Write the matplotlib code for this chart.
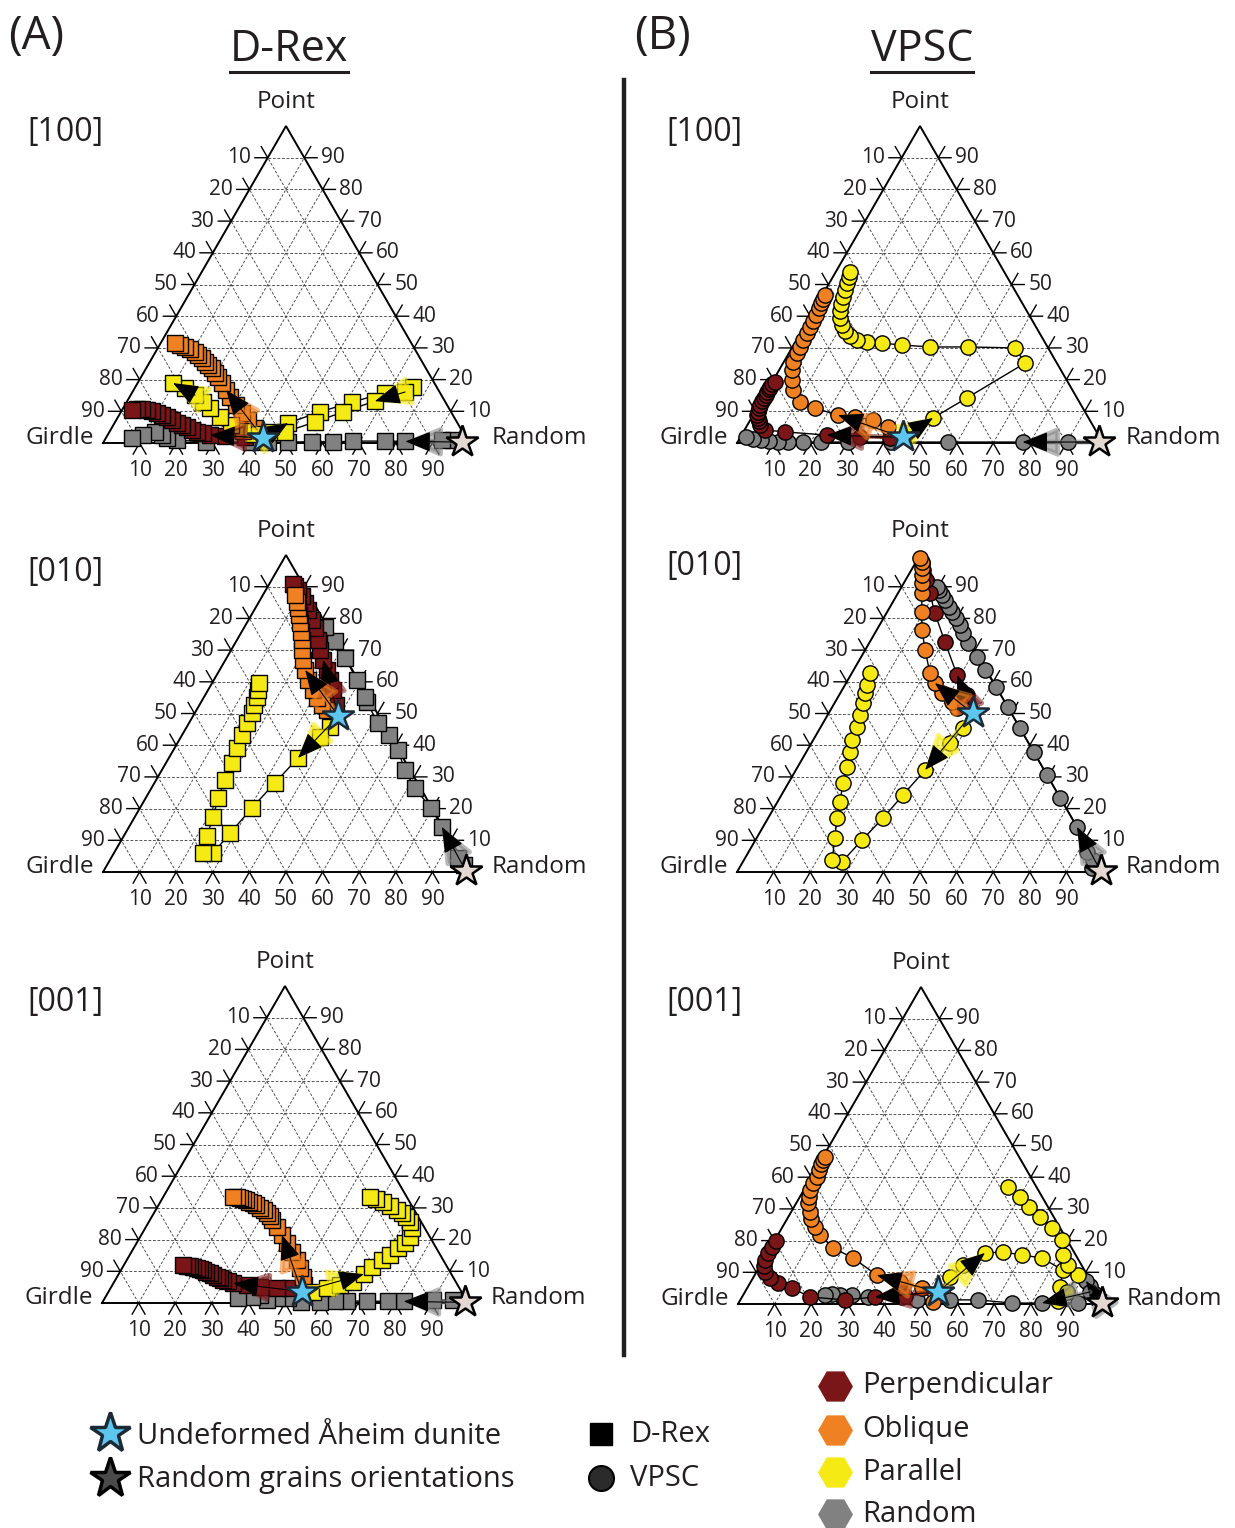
import numpy as np
import matplotlib
matplotlib.use('Agg')
import matplotlib.pyplot as plt
from matplotlib.patches import FancyArrowPatch

plt.rcParams['font.family'] = ['Open Sans', 'DejaVu Sans']

# ---------------- data: (Point %, Random %) pairs, Girdle = 100 - Point - Random
# each deformed path starts at the undeformed sample, the random path at the random star

# D-Rex [100]
a100_start = (1.6, 43.0)
a100_rand = (0.3, 98.0)
a100_perp = [(1.9, 37.8), (2.2, 32.2), (2.5, 28.0), (3.2, 25.7), (3.5, 24.0), (4.1, 22.3), (5.0, 20.5),
             (5.7, 18.7), (6.3, 17.1), (7.3, 15.2), (8.2, 13.4), (8.8, 11.7), (9.5, 10.0), (10.1, 8.3),
             (10.4, 6.8), (10.7, 5.3), (10.7, 4.0), (10.4, 2.7)]
a100_obl = [(4.7, 39.2), (7.3, 36.0), (9.5, 33.2), (12.0, 30.3), (14.5, 27.5), (16.7, 25.3), (18.9, 23.0),
            (20.8, 21.0), (22.1, 19.6), (23.7, 18.0), (24.6, 16.4), (25.6, 15.1), (26.8, 13.6), (27.8, 12.1),
            (28.7, 10.8), (29.7, 8.9), (30.3, 7.3), (30.9, 5.6), (31.5, 3.9)]
a100_par = [(3.5, 44.4), (6.3, 47.4), (9.8, 54.4), (12.9, 61.6), (15.8, 69.1), (17.7, 75.9), (16.1, 74.5),
            (13.2, 67.7), (9.8, 60.7), (6.6, 54.6), (3.5, 48.0), (2.8, 39.3), (3.8, 36.4), (5.7, 32.1),
            (8.2, 27.9), (11.0, 23.7), (12.9, 20.9), (15.1, 17.6), (17.4, 13.7), (18.9, 9.7)]
a100_rnd = [(0.9, 95.2), (0.9, 92.2), (0.5, 82.4), (0.6, 76.7), (0.6, 68.0), (0.3, 62.8), (0.4, 57.0),
            (0.3, 50.5), (0.2, 45.0), (0.3, 40.2), (0.3, 27.9), (0.9, 19.8), (1.6, 16.7), (2.5, 14.9),
            (3.5, 12.5), (2.5, 9.7), (1.6, 7.1)]

# D-Rex [010]
a010_start = (49.2, 39.7)
a010_rand = (0.3, 99.0)
a010_perp = [(52.7, 37.3), (57.4, 34.1), (60.6, 31.7), (63.7, 29.4), (66.9, 26.7), (70.0, 24.3), (73.2, 22.1),
             (77.0, 19.4), (79.5, 17.4), (82.6, 14.7), (84.9, 12.8), (87.1, 10.8), (89.0, 8.8), (90.2, 7.4),
             (90.9, 6.4)]
a010_obl = [(51.1, 35.7), (52.7, 33.5), (54.9, 31.0), (57.4, 28.7), (60.6, 25.7), (63.7, 23.4), (66.9, 21.2),
            (70.0, 19.4), (73.2, 17.8), (75.7, 16.3), (78.5, 14.6), (81.1, 13.0), (83.3, 11.6), (85.2, 10.4),
            (87.4, 8.8)]
a010_par = [(45.7, 39.2), (42.6, 38.0), (36.0, 35.3), (28.1, 32.9), (20.2, 30.6), (12.3, 28.6), (6.0, 27.1),
            (6.0, 24.3), (11.4, 22.7), (17.4, 21.4), (23.3, 19.8), (29.0, 18.8), (34.4, 18.0), (39.1, 17.0),
            (43.2, 16.4), (47.0, 15.8), (50.2, 15.6), (52.7, 14.9), (55.2, 14.5), (57.4, 13.6), (59.6, 12.8)]
a010_rnd = [(2.2, 97.6), (4.4, 94.8), (14.2, 85.5), (20.2, 79.5), (26.5, 71.9), (32.2, 66.4), (38.5, 61.3),
            (43.2, 56.6), (47.0, 51.6), (53.6, 45.3), (55.2, 44.0), (60.6, 39.1), (67.5, 32.4), (72.9, 27.0),
            (77.3, 22.0)]

# D-Rex [001]
a001_start = (3.6, 52.8)
a001_rand = (0.2, 99.0)
a001_perp = [(4.7, 49.0), (4.7, 45.5), (5.0, 40.7), (5.7, 36.8), (6.2, 32.8), (6.8, 31.1), (7.3, 29.5),
             (7.9, 28.3), (8.3, 27.2), (8.8, 26.0), (9.4, 24.8), (9.9, 23.6), (10.4, 22.5), (10.7, 21.4),
             (11.0, 20.4), (11.4, 19.2), (11.6, 18.2), (11.8, 17.2), (12.0, 16.2)]
a001_obl = [(5.7, 52.3), (8.2, 50.8), (11.0, 48.6), (13.6, 46.5), (16.1, 43.9), (18.9, 41.1), (21.5, 38.4),
            (24.0, 35.8), (26.2, 33.3), (27.4, 32.1), (28.4, 30.9), (29.3, 29.5), (30.0, 28.2), (30.8, 26.8),
            (31.5, 25.5), (32.0, 24.3), (32.5, 23.1), (32.8, 22.1), (33.1, 21.2), (33.3, 20.1), (33.4, 19.1)]
a001_par = [(3.5, 55.9), (4.7, 59.1), (5.7, 62.2), (6.6, 65.3), (9.1, 67.0), (11.4, 68.1), (13.6, 69.7),
            (15.1, 71.2), (17.4, 72.2), (18.9, 73.4), (20.8, 73.8), (23.7, 72.8), (25.6, 71.4), (27.1, 69.5),
            (28.4, 67.8), (29.3, 66.0), (30.6, 63.4), (31.9, 60.8), (32.8, 58.5), (33.4, 56.5)]
a001_rnd = [(0.9, 95.5), (0.9, 90.0), (0.5, 82.2), (0.5, 77.9), (0.6, 72.1), (0.6, 66.6), (0.6, 63.4),
            (0.3, 59.4), (0.3, 54.1), (1.6, 50.0), (1.6, 47.0), (0.9, 44.6), (2.5, 41.9), (1.9, 40.0),
            (1.6, 36.4)]

# VPSC [100]
b100_start = (1.8, 44.4)
b100_rand = (0.3, 98.8)
b100_perp = [(1.6, 41.0), (1.9, 32.7), (2.5, 23.3), (3.5, 11.4), (4.1, 5.6), (5.7, 3.4), (6.8, 2.5), (7.9, 1.8),
             (8.8, 1.2), (9.8, 0.8), (10.9, 0.5), (12.0, 0.3), (13.1, 0.2), (14.2, 0.2), (15.2, 0.2),
             (16.1, 0.2), (17.0, 0.2), (17.7, 0.2), (18.5, 0.4), (19.2, 0.8)]
b100_obl = [(5.0, 38.8), (7.3, 33.5), (8.2, 28.1), (8.8, 23.2), (11.0, 15.8), (12.9, 10.8), (16.7, 7.0),
            (19.9, 5.1), (23.0, 3.5), (25.6, 2.5), (28.4, 2.2), (30.3, 2.1), (32.5, 1.8), (34.7, 1.8),
            (36.6, 1.6), (38.5, 1.6), (40.4, 1.4), (42.6, 1.1), (44.2, 0.9), (45.4, 0.8), (46.7, 0.7)]
b100_par = [(3.2, 44.8), (7.9, 49.6), (14.2, 55.7), (25.2, 66.1), (30.0, 61.0), (30.3, 48.0), (30.3, 37.6),
            (30.9, 29.7), (31.5, 23.9), (31.9, 19.6), (32.5, 16.6), (33.8, 14.0), (35.3, 11.9), (37.2, 10.1),
            (39.4, 8.4), (41.6, 7.3), (43.8, 6.5), (46.1, 6.0), (48.3, 5.4), (50.5, 4.8), (52.4, 4.4),
            (53.9, 3.9)]
b100_rnd = [(0.3, 90.2), (0.3, 77.9), (0.3, 57.4), (0.3, 41.8), (0.3, 30.3), (0.3, 22.7), (0.3, 17.8),
            (0.3, 13.9), (0.3, 11.0), (0.5, 8.5), (0.8, 6.2), (1.3, 3.7), (1.9, 1.5)]

# VPSC [010]
b010_start = (50.1, 39.3)
b010_rand = (0.3, 99.2)
b010_perp = [(55.8, 34.9), (62.1, 29.1), (72.6, 20.5), (81.7, 13.2), (88.0, 8.7), (92.1, 5.6), (95.3, 3.2),
             (97.5, 1.8)]
b010_obl = [(51.7, 34.3), (53.6, 31.9), (56.5, 27.8), (59.6, 24.3), (62.8, 21.3), (70.0, 16.4), (76.3, 12.4),
            (82.0, 9.5), (88.0, 6.5), (91.2, 4.9), (93.7, 3.7), (95.9, 2.6), (97.8, 1.6), (99.0, 0.5)]
b010_par = [(45.4, 39.0), (40.7, 37.9), (32.2, 35.3), (24.3, 33.2), (17.0, 31.4), (10.1, 29.1), (3.2, 27.1),
            (3.8, 24.1), (10.7, 21.4), (17.0, 18.8), (22.1, 17.1), (28.1, 14.9), (33.1, 13.5), (37.9, 11.9),
            (41.6, 10.6), (45.7, 10.0), (49.5, 8.9), (53.3, 7.8), (56.5, 6.7), (59.0, 6.0), (62.8, 4.9)]
b010_rnd = [(1.3, 96.3), (3.8, 95.4), (6.3, 92.5), (14.2, 85.8), (23.3, 76.7), (30.6, 69.4), (37.9, 62.1),
            (45.4, 54.6), (52.1, 47.9), (58.4, 41.6), (63.7, 35.9), (67.8, 31.7), (72.2, 27.0), (75.4, 24.0),
            (77.9, 22.0), (80.1, 19.7), (82.0, 17.8), (83.6, 16.2), (85.8, 14.0), (87.4, 12.3), (89.0, 10.7),
            (89.9, 9.7)]

# VPSC [001]
b001_start = (3.8, 52.7)
b001_rand = (0.2, 99.3)
b001_perp = [(2.5, 44.4), (2.2, 36.3), (1.3, 28.6), (2.2, 18.6), (5.0, 12.3), (6.6, 7.6), (8.2, 4.6),
             (10.1, 2.3), (12.0, 1.0), (14.0, 0.5), (16.0, 0.3), (18.0, 0.3), (20.0, 0.5)]
b001_obl = [(0.6, 53.0), (5.0, 47.8), (6.9, 40.8), (9.1, 33.4), (14.5, 24.2), (17.7, 17.1), (21.8, 11.5),
            (24.3, 8.9), (26.8, 6.5), (29.0, 5.2), (31.9, 3.2), (33.8, 2.5), (36.0, 1.7), (38.2, 1.4),
            (40.1, 1.6), (42.3, 1.0), (44.2, 0.6), (45.4, 0.5), (46.4, 0.6)]
b001_par = [(8.5, 53.7), (12.3, 55.3), (16.1, 59.4), (16.4, 64.2), (15.5, 69.8), (14.5, 75.8), (10.7, 83.4),
            (5.4, 85.3), (0.9, 87.0), (3.8, 88.0), (9.1, 88.3), (12.3, 84.0), (15.5, 81.0), (20.2, 78.4),
            (24.0, 73.8), (27.4, 68.8), (30.6, 64.2), (33.8, 60.1), (36.9, 55.3)]
b001_rnd = [(3.2, 95.9), (5.7, 93.3), (7.3, 91.4), (3.8, 94.3), (0.3, 92.8), (0.3, 82.9), (0.3, 74.7),
            (1.3, 64.9), (1.3, 57.2), (1.3, 48.3), (2.2, 43.7), (2.2, 34.4), (2.8, 29.7), (2.8, 26.5),
            (3.2, 24.1), (2.8, 22.4)]

# arrows along each path: (from index, to index), index 0 = starting star
arrows = {
    'a100': {'rnd': [(0, 3)], 'perp': [(0, 3)], 'obl': [(0, 6)], 'par': [(0, 2), (7, 8), (18, 20)]},
    'a010': {'rnd': [(0, 3)], 'perp': [(0, 5)], 'obl': [(0, 6)], 'par': [(0, 3)]},
    'a001': {'rnd': [(0, 3)], 'perp': [(0, 5)], 'obl': [(0, 7)], 'par': [(0, 5)]},
    'b100': {'rnd': [(0, 2)], 'perp': [(0, 3)], 'obl': [(0, 4)], 'par': [(0, 2)]},
    'b010': {'rnd': [(0, 4)], 'perp': [(0, 2)], 'obl': [(0, 4)], 'par': [(0, 3)]},
    'b001': {'rnd': [(0, 3), (4, 6)], 'perp': [(0, 2)], 'obl': [(0, 4)], 'par': [(0, 3)]},
}

colors = {'perp': '#7b1618', 'obl': '#f08122', 'par': '#f6ea14', 'rnd': '#818181'}
blue = '#5cc6ef'
beige = '#e3d8d2'

W, H = 1235, 1528
S = 366          # triangle side in pixels
SQ3 = np.sqrt(3) / 2
XL, XR, YL, YT = -0.28, 1.36, -0.14, 1.0


def tern(p, r):
    p = np.asarray(p, float)
    r = np.asarray(r, float)
    return r / 100 + p / 200, p / 100 * SQ3


fig = plt.figure(figsize=(W / 100, H / 100), dpi=100)
bg = fig.add_axes([0, 0, 1, 1])
bg.set_xlim(0, W)
bg.set_ylim(H, 0)
bg.axis('off')


def make_panel(x0, yb):
    left = (x0 + XL * S) / W
    bottom = (H - (yb - YL * S)) / H
    ax = fig.add_axes([left, bottom, (XR - XL) * S / W, (YT - YL) * S / H])
    ax.set_xlim(XL, XR)
    ax.set_ylim(YL, YT)
    ax.axis('off')
    ax.patch.set_alpha(0)
    # grid
    for k in range(10, 100, 10):
        for p, r in [((k, k), (0, 100 - k)), ((0, 100 - k), (k, k)), ((0, 100 - k), (100 - k, 0))]:
            x, y = tern(p, r)
            ax.plot(x, y, color='#444444', lw=0.65, ls=(0, (3, 2)), zorder=1)
    ax.plot([0, 1, 0.5, 0], [0, 0, SQ3, 0], color='black', lw=1.4, zorder=2, solid_joinstyle='miter')
    L = 0.035
    for k in range(10, 100, 10):
        x, y = tern(0, k)
        for d in (-0.5, 0.5):
            ax.plot([x, x + d * L], [y, y - SQ3 * L], color='black', lw=1.0)
        ax.text(x, y - 0.074, str(k), ha='center', va='center', fontsize=15, color='#231f20')
        x, y = tern(100 - k, 0)
        ax.plot([x - L, x, x - 0.5 * L], [y, y, y + SQ3 * L], color='black', lw=1.0)
        ax.text(x - 0.046, y, str(k), ha='right', va='center', fontsize=15, color='#231f20')
        x, y = tern(k, 100 - k)
        ax.plot([x + L, x, x + 0.5 * L], [y, y, y + SQ3 * L], color='black', lw=1.0)
        ax.text(x + 0.046, y, str(k), ha='left', va='center', fontsize=15, color='#231f20')
    ax.text(0.5, SQ3 + 0.066, 'Point', ha='center', va='center', fontsize=17.5, color='#231f20')
    ax.text(-0.025, 0.014, 'Girdle', ha='right', va='center', fontsize=17.5, color='#231f20')
    ax.text(1.062, 0.014, 'Random', ha='left', va='center', fontsize=17.5, color='#231f20')
    return ax


def draw_path(ax, start, pts, key, marker, ms, arr):
    data = np.array([start] + list(pts))
    x, y = tern(data[:, 0], data[:, 1])
    ax.plot(x, y, color='black', lw=1.0, zorder=3)
    ax.plot(x[1:], y[1:], ls='none', marker=marker, ms=ms, mfc=colors[key], mec='black',
            mew=1.0, zorder=3)
    for i0, i1 in arr:
        glow = FancyArrowPatch((x[i0], y[i0]), (x[i1], y[i1]),
                               arrowstyle='-|>,head_length=0.8,head_width=0.34', mutation_scale=26,
                               fc=colors[key], ec=colors[key], lw=3.5, alpha=0.55,
                               shrinkA=0, shrinkB=0, zorder=5)
        core = FancyArrowPatch((x[i0], y[i0]), (x[i1], y[i1]),
                               arrowstyle='-|>,head_length=0.8,head_width=0.32', mutation_scale=20,
                               fc='black', ec='black', lw=0.8, shrinkA=0, shrinkB=0, zorder=5)
        ax.add_patch(glow)
        ax.add_patch(core)


panels = [
    ('a100', 103, 443, 's', 11, a100_start, a100_rand, a100_perp, a100_obl, a100_par, a100_rnd),
    ('a010', 103, 872, 's', 11, a010_start, a010_rand, a010_perp, a010_obl, a010_par, a010_rnd),
    ('a001', 102, 1303, 's', 11, a001_start, a001_rand, a001_perp, a001_obl, a001_par, a001_rnd),
    ('b100', 737, 443, 'o', 11, b100_start, b100_rand, b100_perp, b100_obl, b100_par, b100_rnd),
    ('b010', 737, 872, 'o', 11, b010_start, b010_rand, b010_perp, b010_obl, b010_par, b010_rnd),
    ('b001', 738, 1304, 'o', 11, b001_start, b001_rand, b001_perp, b001_obl, b001_par, b001_rnd),
]

for name, x0, yb, mk, ms, start, rand, perp, obl, par, rnd in panels:
    ax = make_panel(x0, yb)
    draw_path(ax, rand, rnd, 'rnd', mk, ms, arrows[name]['rnd'])
    draw_path(ax, start, perp, 'perp', mk, ms, arrows[name]['perp'])
    draw_path(ax, start, obl, 'obl', mk, ms, arrows[name]['obl'])
    draw_path(ax, start, par, 'par', mk, ms, arrows[name]['par'])
    sx, sy = tern(*start)
    ax.plot(sx, sy, marker='*', ms=24, mfc=blue, mec='#1d2a35', mew=1.8, zorder=7)
    rx, ry = tern(*rand)
    ax.plot(rx, ry, marker='*', ms=24, mfc=beige, mec='black', mew=1.8, zorder=7)

# titles and panel labels
txt_kw = dict(color='#231f20')
bg.text(8, 37, '(A)', fontsize=33, ha='left', va='center', **txt_kw)
bg.text(634, 37, '(B)', fontsize=33, ha='left', va='center', **txt_kw)
t1 = bg.text(289, 50, 'D-Rex', fontsize=31, ha='center', va='center', **txt_kw)
t2 = bg.text(922, 50, 'VPSC', fontsize=31, ha='center', va='center', **txt_kw)
for x, lab in [(27, '[100]'), (666, '[100]')]:
    bg.text(x, 133, lab, fontsize=23, ha='left', va='center', **txt_kw)
bg.text(27, 572, '[010]', fontsize=23, ha='left', va='center', **txt_kw)
bg.text(666, 567, '[010]', fontsize=23, ha='left', va='center', **txt_kw)
bg.text(27, 1002, '[001]', fontsize=23, ha='left', va='center', **txt_kw)
bg.text(666, 1002, '[001]', fontsize=23, ha='left', va='center', **txt_kw)

bg.plot([624, 624], [80, 1355], color='#231f20', lw=3.2)

# legend
bg.plot(110, 1433, marker='*', ms=30, mfc=blue, mec='#1d2a35', mew=2.5)
bg.text(137, 1436, 'Undeformed Åheim dunite', fontsize=21, ha='left', va='center', **txt_kw)
bg.plot(110, 1478, marker='*', ms=30, mfc='#4a4a4a', mec='black', mew=2.5)
bg.text(137, 1479, 'Random grains orientations', fontsize=21, ha='left', va='center', **txt_kw)
bg.plot(601, 1434, marker='s', ms=16, mfc='black', mec='black')
bg.text(630, 1434, 'D-Rex', fontsize=21, ha='left', va='center', **txt_kw)
bg.plot(601, 1478, marker='o', ms=18, mfc='#2b2b2b', mec='black', mew=1.5)
bg.text(630, 1478, 'VPSC', fontsize=21, ha='left', va='center', **txt_kw)
for y, key, lab in [(1386, 'perp', 'Perpendicular'), (1430, 'obl', 'Oblique'),
                    (1472, 'par', 'Parallel'), (1514, 'rnd', 'Random')]:
    bg.plot(835, y, marker='H', ms=24, mfc=colors[key], mec=colors[key])
    bg.text(862, y, lab, fontsize=21, ha='left', va='center', **txt_kw)

# underline the model titles
fig.canvas.draw()
inv = bg.transData.inverted()
for t in (t1, t2):
    bb = t.get_window_extent()
    (xa, _), (xb, _) = inv.transform([[bb.x0, bb.y0], [bb.x1, bb.y1]])
    bg.plot([xa, xb], [72, 72], color='#231f20', lw=2.2)

fig.savefig('out.png', dpi=100)
